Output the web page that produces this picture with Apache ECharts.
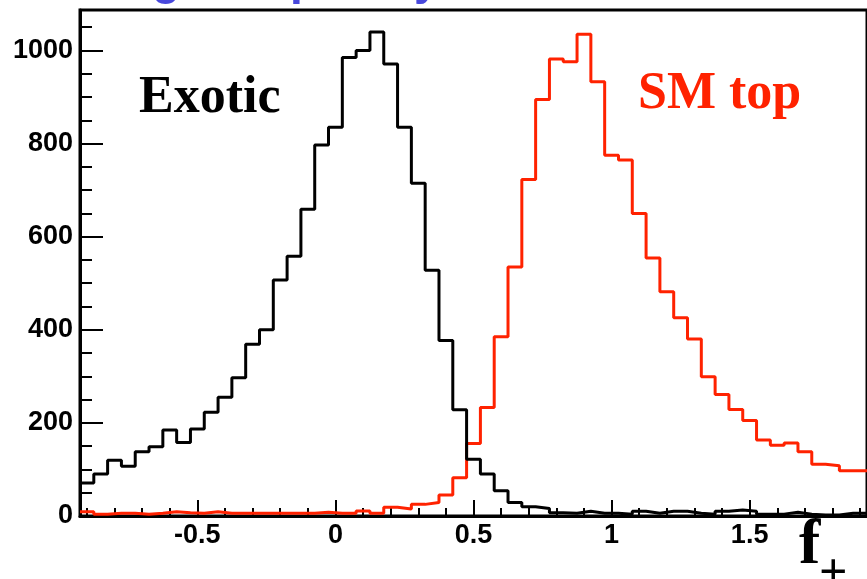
<!DOCTYPE html>
<html><head><meta charset="utf-8">
<script src="https://cdn.jsdelivr.net/npm/echarts@6/dist/echarts.min.js"></script>
<style>html,body{margin:0;padding:0;background:#fff}#c{width:867px;height:579px}</style>
</head><body><div id="c"></div>
<script>
// histogram binning (lower edge of first bin, bin width, upper edge of last bin)
const binLow = -0.925;
const binWidth = 0.05;
const xMax = 1.925;
const yMax = 1087;

// bin contents, 57 bins from -0.925 to 1.925
const exotic = [71, 90, 120, 107, 138, 149, 185, 158, 187, 223,
  255, 297, 369, 400, 507, 558, 659, 797, 835, 985,
  1000, 1040, 971, 835, 715, 528, 377, 228, 122, 90,
  54, 29, 20, 16, 7, 6, 10, 6, 6, 4,
  10, 6, 10, 10, 6, 4, 10, 13, 10, 4,
  4, 8, 4, 2, 2, 6, 6];
const smTop = [9, 4, 6, 6, 4, 6, 9, 7, 6, 9,
  6, 6, 6, 6, 6, 6, 6, 8, 6, 6,
  11, 6, 19, 15, 25, 29, 45, 82, 156, 233,
  385, 535, 723, 895, 982, 976, 1035, 933, 775, 765,
  650, 554, 482, 426, 380, 299, 261, 229, 205, 163,
  152, 157, 138, 111, 108, 97, 97];

// tick values
const xMajorTicks = [-0.5, 0, 0.5, 1, 1.5];
const xMinorTicks = [-0.9, -0.8, -0.7, -0.6, -0.4, -0.3, -0.2, -0.1, 0.1, 0.2, 0.3, 0.4,
  0.6, 0.7, 0.8, 0.9, 1.1, 1.2, 1.3, 1.4, 1.6, 1.7, 1.8, 1.9];
const yMajorTicks = [0, 200, 400, 600, 800, 1000];
const yMinorTicks = [50, 100, 150, 250, 300, 350, 450, 500, 550, 650, 700, 750, 850, 900, 950, 1050];

// text
const labelExotic = 'Exotic';
const labelSM = 'SM top';
const axisTitleMain = 'f';
const axisTitleSub = '+';

function stepPoints(vals) {
  const pts = vals.map((v, i) => [+(binLow + i * binWidth).toFixed(4), v]);
  pts.push([xMax, vals[vals.length - 1]]);
  return pts;
}

const chart = echarts.init(document.getElementById('c'), null, {renderer: 'canvas'});
const tickFont = {fontFamily: 'Liberation Sans', fontWeight: 'bold', fontSize: 27, color: '#000'};
const blue = '#4848dc';
const red = '#ff2200';

chart.setOption({
  animation: false,
  backgroundColor: '#fff',
  grid: {left: 80, top: 10, width: 795, height: 506, show: true, borderColor: '#000', borderWidth: 3, backgroundColor: 'transparent'},
  xAxis: [{
    type: 'value', min: binLow, max: xMax,
    axisLine: {show: true, onZero: false, lineStyle: {color: '#000', width: 3}},
    axisTick: {show: true, inside: true, length: 16, customValues: xMajorTicks, lineStyle: {color: '#000', width: 2}},
    axisLabel: Object.assign({customValues: xMajorTicks, margin: 6, formatter: v => String(v)}, tickFont),
    splitLine: {show: false}
  }, {
    type: 'value', min: binLow, max: xMax, position: 'bottom',
    axisLine: {show: false, onZero: false},
    axisTick: {show: true, inside: true, length: 8, customValues: xMinorTicks, lineStyle: {color: '#000', width: 2}},
    axisLabel: {show: false},
    splitLine: {show: false}
  }],
  yAxis: [{
    type: 'value', min: 0, max: yMax,
    axisLine: {show: true, onZero: false, lineStyle: {color: '#000', width: 3}},
    axisTick: {show: true, inside: true, length: 23, customValues: yMajorTicks, lineStyle: {color: '#000', width: 2}},
    axisLabel: Object.assign({customValues: yMajorTicks, margin: 7, formatter: v => String(v)}, tickFont),
    splitLine: {show: false}
  }, {
    type: 'value', min: 0, max: yMax, position: 'left',
    axisLine: {show: false, onZero: false},
    axisTick: {show: true, inside: true, length: 12, customValues: yMinorTicks, lineStyle: {color: '#000', width: 2}},
    axisLabel: {show: false},
    splitLine: {show: false}
  }],
  series: [{
    name: labelSM, type: 'line', step: 'end', xAxisIndex: 0, yAxisIndex: 0,
    data: stepPoints(smTop), symbol: 'none',
    lineStyle: {color: red, width: 3}, z: 3
  }, {
    name: labelExotic, type: 'line', step: 'end', xAxisIndex: 0, yAxisIndex: 0,
    data: stepPoints(exotic), symbol: 'none',
    lineStyle: {color: '#000', width: 3}, z: 4
  }],
  graphic: [
    {type: 'text', left: 139, top: 73, style: {text: labelExotic, font: 'bold 52px "Liberation Serif"', fill: '#000'}},
    {type: 'text', left: 638, top: 69, style: {text: labelSM, font: 'bold 52px "Liberation Serif"', fill: red}},
    {type: 'text', left: 799, top: 514, style: {text: axisTitleMain, font: 'bold 64px "Liberation Serif"', fill: '#000'}},
    {type: 'text', left: 819, top: 550, style: {text: axisTitleSub, font: 'bold 50px "Liberation Serif"', fill: '#000'}},
    {type: 'text', left: 152, top: -42, style: {text: 'g', font: 'bold 46px "Liberation Sans"', fill: blue}},
    {type: 'text', left: 290, top: -42, style: {text: 'p', font: 'bold 46px "Liberation Sans"', fill: blue}},
    {type: 'text', left: 414, top: -42, style: {text: 'y', font: 'bold 46px "Liberation Sans"', fill: blue}}
  ]
});
</script>
</body></html>
